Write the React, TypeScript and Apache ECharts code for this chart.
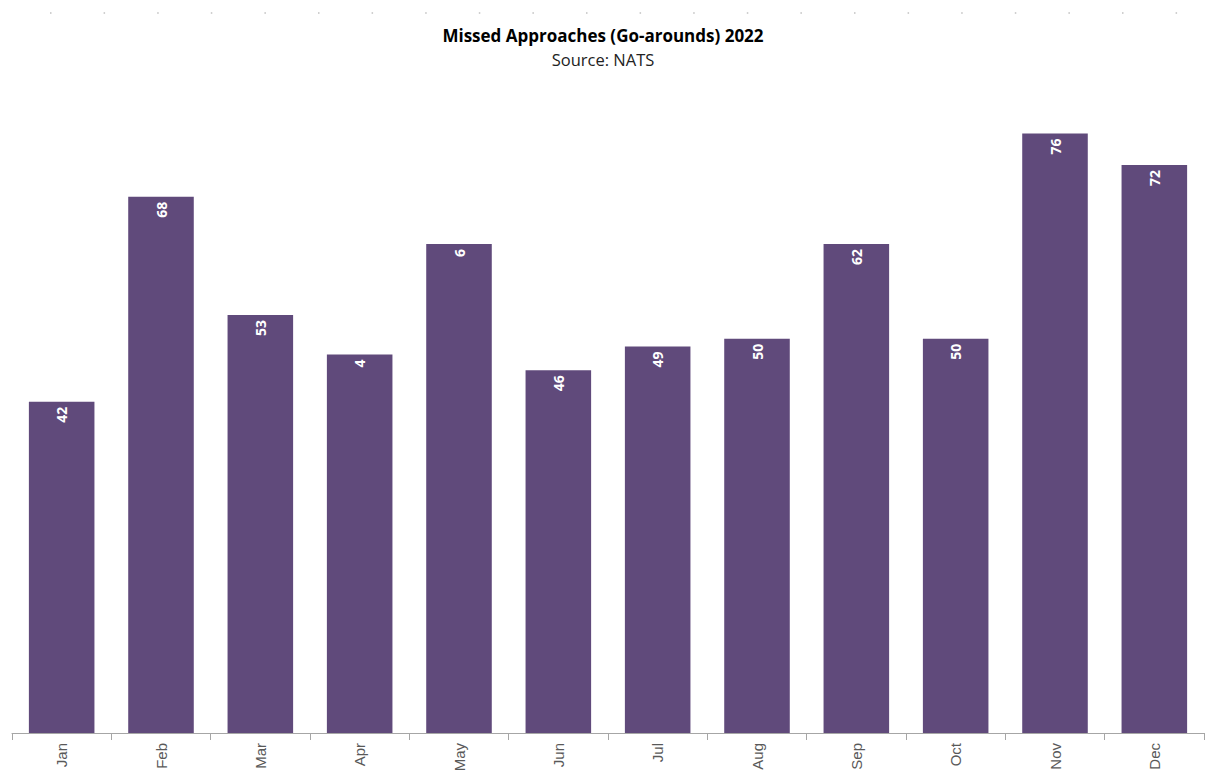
import React, { useEffect, useRef } from "react";
import * as echarts from "echarts";

const months = ["Jan", "Feb", "Mar", "Apr", "May", "Jun", "Jul", "Aug", "Sep", "Oct", "Nov", "Dec"];
const goArounds = [42, 68, 53, 48, 62, 46, 49, 50, 62, 50, 76, 72];
// Labels as shown in the source (two are clipped there)
const shownLabels = ["42", "68", "53", "4", "6", "46", "49", "50", "62", "50", "76", "72"];
const yMax = 80;

export default function App() {
  const ref = useRef<HTMLDivElement>(null);
  useEffect(() => {
    if (!ref.current) return;
    const chart = echarts.init(ref.current, null, { renderer: "svg" });
    const dots: any[] = [];
    for (let k = 0; k < 22; k++) {
      dots.push({
        type: "rect",
        shape: { x: 50 + k * 53.6, y: 12, width: 1.5, height: 2 },
        style: { fill: "#d0d0d0" },
        silent: true,
      });
    }
    chart.setOption({
      animation: false,
      backgroundColor: "#ffffff",
      title: {
        text: "Missed Approaches (Go-arounds) 2022",
        subtext: "Source: NATS",
        left: "center",
        top: 20,
        itemGap: 4,
        textStyle: { fontFamily: "Open Sans", fontWeight: "bold", fontSize: 17, color: "#000000", lineHeight: 20 },
        subtextStyle: { fontFamily: "Open Sans", fontSize: 16.5, color: "#222222", lineHeight: 20 },
      },
      graphic: dots,
      grid: { left: 12, right: 2, top: 102, bottom: 43, containLabel: false },
      xAxis: {
        type: "category",
        data: months,
        axisLine: { lineStyle: { color: "#a6a6a6", width: 1 } },
        axisTick: { show: true, length: 7, lineStyle: { color: "#a6a6a6" } },
        axisLabel: {
          rotate: 90,
          color: "#595959",
          fontFamily: "Liberation Sans",
          fontSize: 15,
          margin: 10,
        },
      },
      yAxis: {
        type: "value",
        min: 0,
        max: yMax,
        show: false,
        splitLine: { show: false },
      },
      series: [
        {
          type: "bar",
          data: goArounds,
          barCategoryGap: "34%",
          itemStyle: { color: "#604a7b" },
          label: {
            show: true,
            position: "insideTop",
            rotate: 90,
            align: "right",
            verticalAlign: "middle",
            distance: 5,
            color: "#ffffff",
            fontWeight: "bold",
            fontSize: 14,
            fontFamily: "Open Sans",
            formatter: (p: any) => shownLabels[p.dataIndex],
          },
        },
      ],
    });
    return () => chart.dispose();
  }, []);
  return <div ref={ref} style={{ width: 1206, height: 776, position: "absolute", left: 0, top: 0 }} />;
}
